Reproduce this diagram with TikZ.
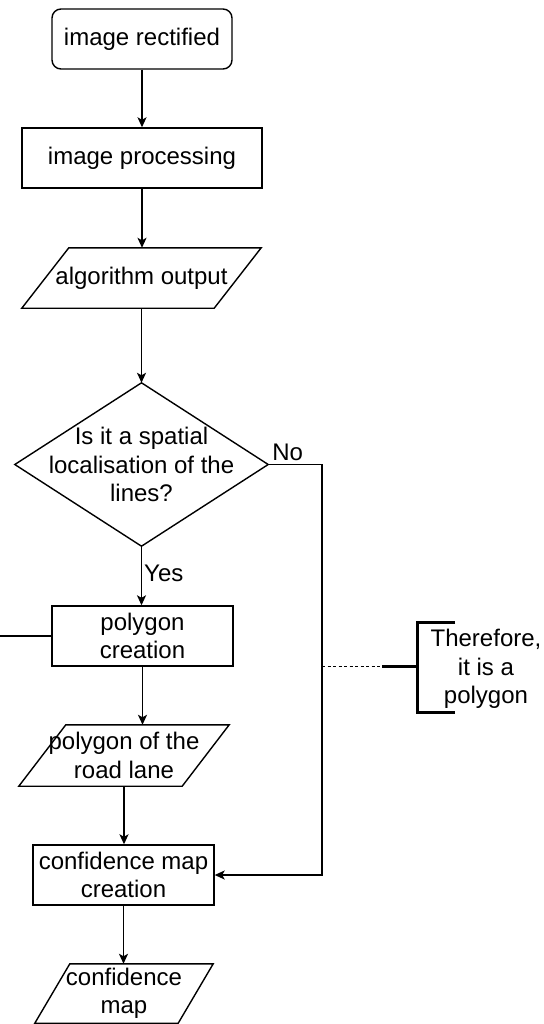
\documentclass[tikz,border=0pt]{standalone}
\usepackage{fontspec}
\setmainfont{Liberation Sans}
\usetikzlibrary{arrows.meta}

\tikzset{
  box/.style={draw, line width=1.4pt, minimum height=60pt, inner sep=0pt, align=center},
  txt/.style={inner sep=0pt, align=center},
  plain/.style={line width=1.4pt},
  flow/.style={line width=1.4pt, -{Stealth[length=10pt,width=9pt,inset=2.5pt]}},
  brace/.style={line width=3pt},
  tether/.style={line width=1pt, dash pattern=on 3pt off 2.5pt},
}

\begin{document}
\begin{tikzpicture}[x=1pt, y=-1pt,
  every node/.style={font=\fontsize{24}{28.5}\selectfont}]
  \useasboundingbox (0,0) rectangle (543,1024);

  % process steps
  \node[box, rounded corners=9pt, minimum width=180pt] (rect) at (142,39) {image rectified};
  \node[box, minimum width=240pt] (proc) at (142,158) {image processing};
  \node[txt, minimum width=239pt, minimum height=60pt] (algo) at (141.5,278) {algorithm output};
  \node[txt, minimum width=253pt, minimum height=163pt] (dec) at (141.5,464.5)
       {Is it a spatial\\localisation of the\\lines?};
  \node[box, minimum width=181pt] (pc) at (142.5,636) {polygon\\creation};
  \node[txt, minimum width=210pt, minimum height=61pt] (lane) at (124,755.5) {polygon of the\\road lane};
  \node[box, minimum width=181pt] (cmc) at (123.5,875) {confidence map\\creation};
  \node[txt, minimum width=178pt, minimum height=59pt] (cmap) at (124,993.5) {confidence\\map};

  % data (parallelogram) outlines
  \draw[plain] ([xshift=47pt]algo.north west) -- (algo.north east)
     -- ([xshift=-47pt]algo.south east) -- (algo.south west) -- cycle;
  \draw[plain] ([xshift=47pt]lane.north west) -- (lane.north east)
     -- ([xshift=-47pt]lane.south east) -- (lane.south west) -- cycle;
  \draw[plain] ([xshift=35pt]cmap.north west) -- (cmap.north east)
     -- ([xshift=-35pt]cmap.south east) -- (cmap.south west) -- cycle;

  % decision outline
  \draw[plain] (dec.north) -- (dec.east) -- (dec.south) -- (dec.west) -- cycle;

  % main flow
  \draw[flow] (rect.south) -- (proc.north);
  \draw[flow] (proc.south) -- (proc.south |- algo.north);
  \draw[flow] (algo.south) -- (algo.south |- dec.north);
  \draw[flow] (dec.south) -- node[txt, anchor=west, xshift=2pt, yshift=2pt] (yes) {Yes} (dec.south |- pc.north);
  \draw[flow] (pc.south) -- (pc.south |- lane.north);
  \draw[flow] (lane.south) -- (lane.south |- cmc.north);
  \draw[flow] (cmc.south) -- (cmc.south |- cmap.north);

  % "No" branch
  \coordinate (noturn) at (322,464.5);
  \node[txt, anchor=south west] (no) at ([xshift=4pt, yshift=4pt]dec.east) {No};
  \draw[flow] (dec.east) -- (noturn) |- (cmc.east);

  % loose line leaving polygon creation
  \coordinate (edge) at (0,636);
  \draw[plain] (pc.west) -- (edge);

  % annotation
  \coordinate (tap) at (322,666);
  \coordinate (dashend) at (382,666);
  \coordinate (brk) at (417,666);
  \coordinate (btopin) at (417,622);
  \coordinate (btop) at (455,622);
  \coordinate (bbotin) at (417,712);
  \coordinate (bbot) at (455,712);
  \draw[tether] (tap) -- (dashend);
  \draw[brace] (dashend) -- (brk);
  \draw[brace] (btop) -- (btopin) -- (bbotin) -- (bbot);
  \node[txt] (note) at (486,669) {Therefore,\\it is a\\polygon};
\end{tikzpicture}
\end{document}
